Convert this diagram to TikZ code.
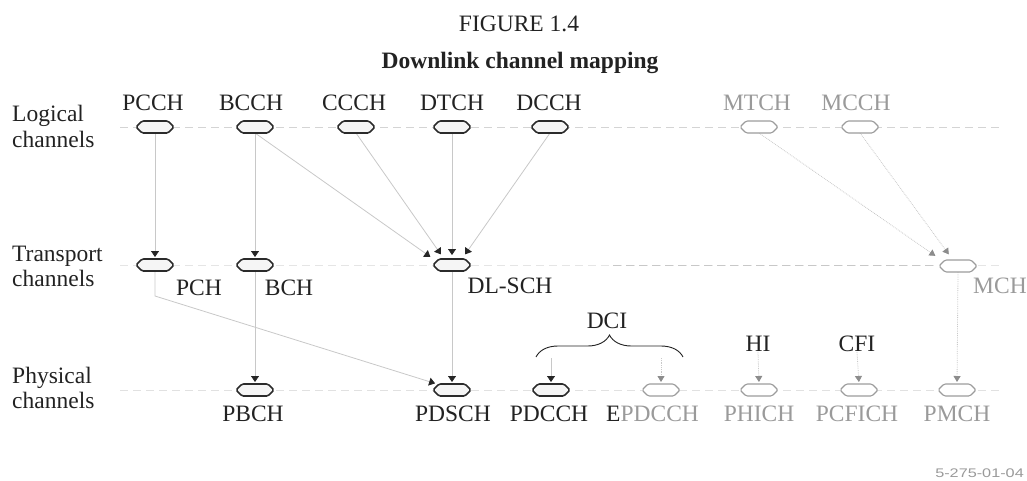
\documentclass[tikz,border=0pt]{standalone}
\usepackage{fontspec}
\setmainfont{Liberation Serif}
\newfontfamily\codefont{Liberation Sans}
\usetikzlibrary{arrows.meta,calc,decorations.pathreplacing}
\definecolor{txtdark}{HTML}{222222}
\definecolor{txtgray}{HTML}{9A9A9A}
\definecolor{linegray}{HTML}{C8C8C8}
\definecolor{rowgray}{HTML}{D4D4D4}
\definecolor{arrowdark}{HTML}{262626}
\definecolor{arrowgray}{HTML}{8C8C8C}
\definecolor{hexdark}{HTML}{2B2B2B}
\definecolor{hexgray}{HTML}{9C9C9C}
\tikzset{
  chbox/.style={shape=rectangle,draw=none,minimum width=38pt,minimum height=12pt,inner sep=0pt,outer sep=0pt},
  hexd/.style={draw=hexdark,line width=1.6pt,fill=white!96!black,line join=round,rounded corners=1.5pt},
  hexg/.style={draw=hexgray,line width=1.1pt,fill=white,line join=round,rounded corners=1.5pt},
  lbl/.style={font=\fontsize{23.5}{26}\selectfont,inner sep=0pt,text=txtdark},
  glbl/.style={lbl,text=txtgray},
  side/.style={font=\fontsize{23.5}{26}\selectfont,inner sep=0pt,text=txtdark,anchor=base west},
  rowline/.style={draw=rowgray,line width=0.8pt,dash pattern=on 8pt off 5pt},
  arr/.style={draw=linegray,line width=0.8pt,-{Triangle[width=8pt,length=6pt,color=arrowdark]},shorten >=2pt},
  garr/.style={draw=linegray,line width=0.8pt,densely dotted,-{Triangle[width=7pt,length=6pt,color=arrowgray]},shorten >=2pt},
}
\newcommand\hexat[2]{%
  \draw[#2] (#1.west) -- ($(#1.west)+(6,-6)$) -- ($(#1.east)+(-6,-6)$) -- (#1.east)
    -- ($(#1.east)+(-6,6)$) -- ($(#1.west)+(6,6)$) -- cycle;}
\begin{document}
\begin{tikzpicture}[x=1pt,y=-1pt]
\useasboundingbox (0,0) rectangle (1027,480);

% titles
\node[lbl,anchor=base] (fig) at (519,31) {FIGURE 1.4};
\node[lbl,anchor=base,font=\fontsize{23.5}{26}\selectfont\bfseries] (ttl) at (520,68) {Downlink channel mapping};

% row labels
\node[side] (lg1) at (12,121) {Logical};
\node[side] (lg2) at (12,147) {channels};
\node[side] (tr1) at (12,261) {Transport};
\node[side] (tr2) at (12,286) {channels};
\node[side] (ph1) at (12,383) {Physical};
\node[side] (ph2) at (12,408) {channels};

% row lines
\draw[rowline] (120,127) -- (1000,127);
\draw[rowline,draw=rowgray!60] (120,265) -- (1000,265);
\draw[rowline,draw=linegray] (613,265) -- (935,265);
\draw[rowline,draw=rowgray!70] (120,390) -- (1000,390);

% logical channel nodes
\node[chbox] (PCCH) at (155,127) {};
\node[chbox] (BCCH) at (255,127) {};
\node[chbox] (CCCH) at (356,127) {};
\node[chbox] (DTCH) at (452,127) {};
\node[chbox] (DCCH) at (550,127) {};
\node[chbox] (MTCH) at (759,127) {};
\node[chbox] (MCCH) at (860,127) {};
% transport
\node[chbox] (PCH) at (155,265) {};
\node[chbox] (BCH) at (255,265) {};
\node[chbox] (DLSCH) at (452,265) {};
\node[chbox] (MCH) at (958,266) {};
% physical
\node[chbox] (PBCH) at (255,390) {};
\node[chbox] (PDSCH) at (452,390) {};
\node[chbox] (PDCCH) at (551,390) {};
\node[chbox] (EPDCCH) at (661,390) {};
\node[chbox] (PHICH) at (759,390) {};
\node[chbox] (PCFICH) at (859,390) {};
\node[chbox] (PMCH) at (957,390) {};

% labels
\node[lbl] (lPCCH) at (153,103) {PCCH};
\node[lbl] (lBCCH) at (251,103) {BCCH};
\node[lbl] (lCCCH) at (354,103) {CCCH};
\node[lbl] (lDTCH) at (452,103) {DTCH};
\node[lbl] (lDCCH) at (549,103) {DCCH};
\node[glbl] (lMTCH) at (757,103) {MTCH};
\node[glbl] (lMCCH) at (856,103) {MCCH};
\node[lbl] (lPCH) at (199,288) {PCH};
\node[lbl] (lBCH) at (289,288) {BCH};
\node[lbl] (lDLSCH) at (510,286) {DL-SCH};
\node[glbl,anchor=west] (lMCH) at (973,286) {MCH};
\node[lbl] (lPBCH) at (253,414) {PBCH};
\node[lbl] (lPDSCH) at (453,414) {PDSCH};
\node[lbl] (lPDCCH) at (549,414) {PDCCH};
\node[lbl,anchor=west] (lEPDCCH) at (606,414) {E\textcolor{txtgray}{PDCCH}};
\node[glbl] (lPHICH) at (759,414) {PHICH};
\node[glbl] (lPCFICH) at (857,414) {PCFICH};
\node[glbl] (lPMCH) at (957,414) {PMCH};
\node[lbl] (DCI) at (607,321) {DCI};
\node[lbl] (HI) at (758,344) {HI};
\node[lbl] (CFI) at (857,344) {CFI};

% brace
\coordinate (brL) at (536,357);
\coordinate (brR) at (683,357);
\draw[txtdark,line width=0.9pt,decorate,decoration={brace,amplitude=22pt}] (brL) -- (brR);
\coordinate (dciA) at (551,358);
\coordinate (dciB) at (661,358);

% connectors
\draw[arr] (PCCH.south) -- (PCH.north);
\draw[arr] (BCCH.south) -- (BCH.north);
\draw[arr] (BCCH.south) -- ($(DLSCH.center)+(-20,-7)$);
\draw[arr] (CCCH.south) -- ($(DLSCH.center)+(-10,-9)$);
\draw[arr] (DTCH.south) -- ($(DLSCH.center)+(0,-8)$);
\draw[arr] (DCCH.south) -- ($(DLSCH.center)+(12,-9)$);
\draw[arr] (PCH.south) -- ++(0,25) -- ($(PDSCH.center)+(-15,-6)$);
\draw[arr] (BCH.south) -- (PBCH.north);
\draw[arr] (DLSCH.south) -- (PDSCH.north);
\draw[arr] (dciA) -- (PDCCH.north);
\draw[garr] (dciB) -- (EPDCCH.north);
\draw[garr] (HI.south) -- (PHICH.north);
\draw[garr] (CFI.south) -- (PCFICH.north);
\draw[garr] (MTCH.south) -- ($(MCH.center)+(-21,-9)$);
\draw[garr] (MCCH.south) -- ($(MCH.center)+(-8,-10)$);
\draw[garr] (MCH.south) -- (PMCH.north);

% hexagons
\hexat{PCCH}{hexd}\hexat{BCCH}{hexd}\hexat{CCCH}{hexd}\hexat{DTCH}{hexd}\hexat{DCCH}{hexd}
\hexat{MTCH}{hexg}\hexat{MCCH}{hexg}
\hexat{PCH}{hexd}\hexat{BCH}{hexd}\hexat{DLSCH}{hexd}\hexat{MCH}{hexg}
\hexat{PBCH}{hexd}\hexat{PDSCH}{hexd}\hexat{PDCCH}{hexd}
\hexat{EPDCCH}{hexg}\hexat{PHICH}{hexg}\hexat{PCFICH}{hexg}\hexat{PMCH}{hexg}

% code
\node[inner sep=0pt,anchor=base east,text=txtgray,font=\codefont\fontsize{12.5}{14}\selectfont] (code) at (1024,477) {\scalebox{1.3}[1]{5-275-01-04}};
\end{tikzpicture}
\end{document}
